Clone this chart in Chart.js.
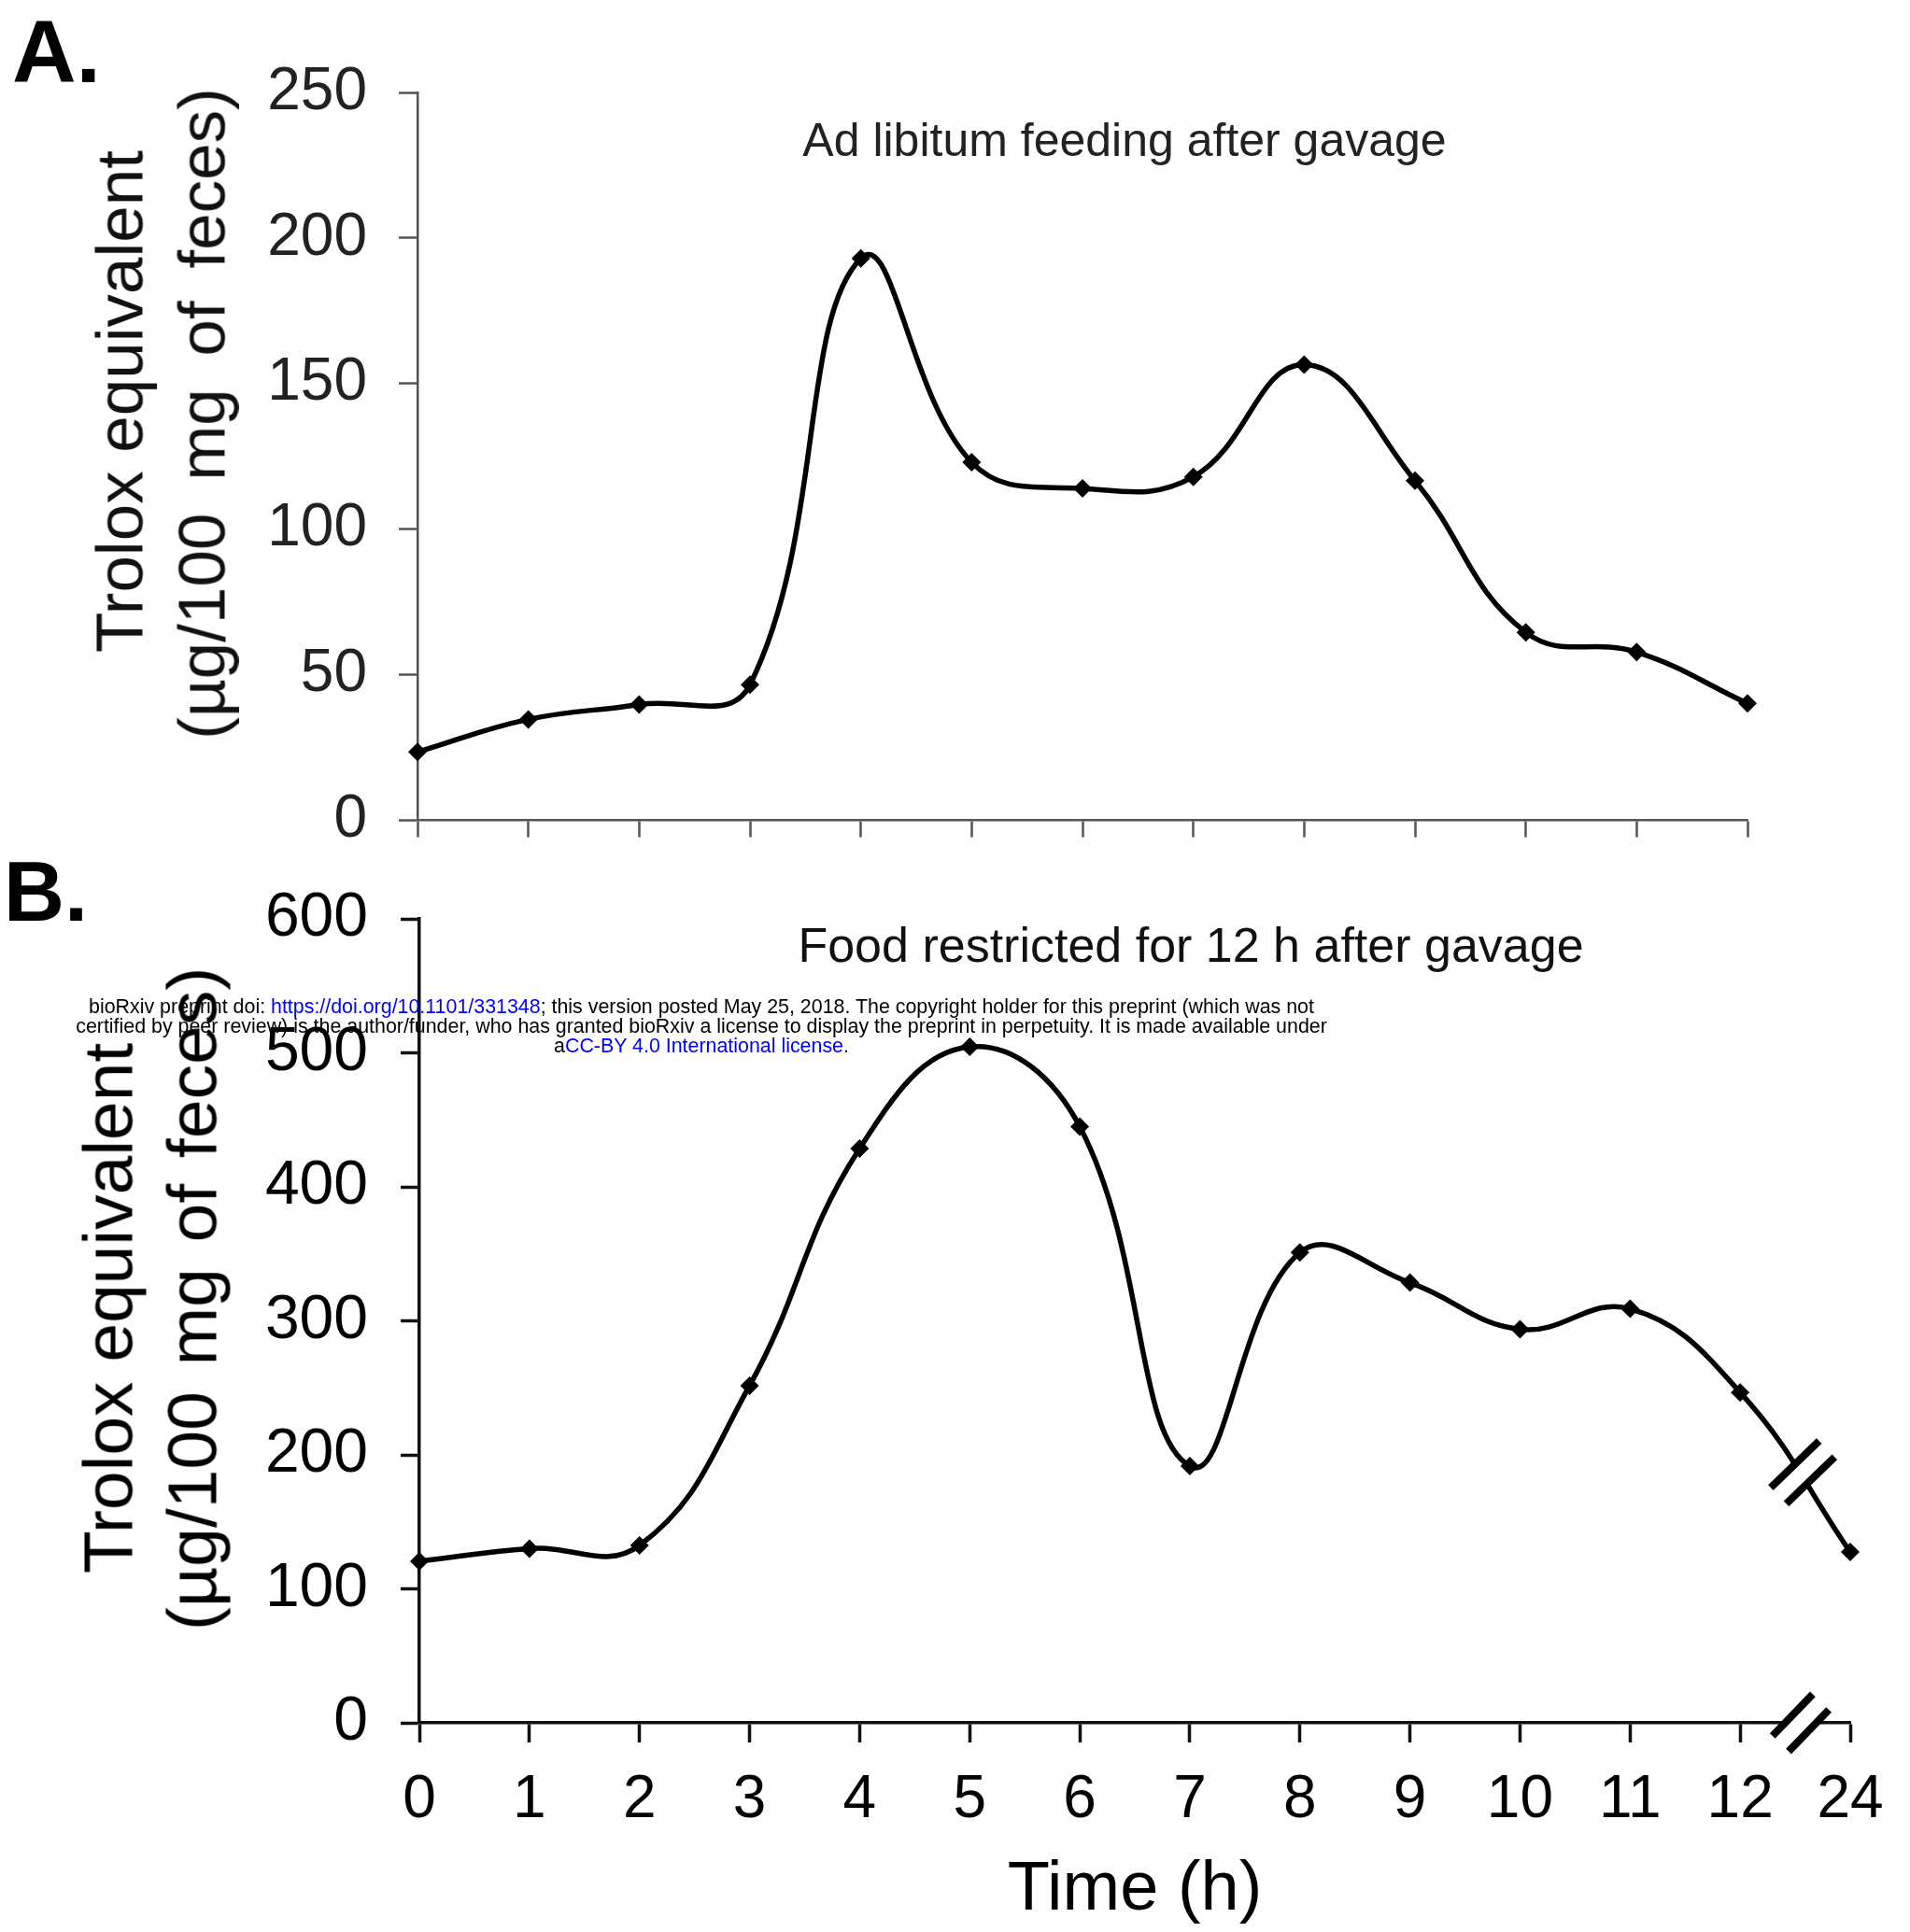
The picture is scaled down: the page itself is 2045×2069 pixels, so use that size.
<!DOCTYPE html>
<html>
<head>
<meta charset="utf-8">
<title>Trolox equivalent in feces after gavage</title>
<script src="https://cdn.jsdelivr.net/npm/chart.js@4.4.0/dist/chart.umd.min.js"></script>
<style>
  body { margin:0; background:#fff; width:2045px; height:2069px; position:relative; overflow:hidden;
         font-family:"Liberation Sans", Arial, sans-serif; }
  canvas { position:absolute; left:0; }
  #chartA { top:0; }
  #chartB { top:900px; }
  .txt { position:absolute; white-space:pre; line-height:1; transform:translate(-50%,-50%); }
  .ytitle { position:absolute; white-space:pre; line-height:1; transform:translate(-50%,-50%) rotate(-90deg); }
  .panel { position:absolute; font-weight:bold; line-height:1; }
  #stamp { position:absolute; left:751px; top:1068px; transform:translateX(-50%); text-align:center;
           font-size:21.4px; line-height:21px; white-space:pre; color:#000; z-index:5; }
  #stamp span { color:#0000ff; }
</style>
</head>
<body>
<canvas id="chartA" width="2045" height="951"></canvas>
<canvas id="chartB" width="2045" height="1169"></canvas>

<div class="panel" style="left:13px;top:8px;font-size:95px;">A.</div>
<div class="panel" style="left:4px;top:910px;font-size:90px;">B.</div>

<div class="txt" style="left:1204px;top:150px;font-size:50px;color:#222;">Ad libitum feeding after gavage</div>
<div class="txt" style="left:1275px;top:1012px;font-size:52px;color:#111;">Food restricted for 12 h after gavage</div>

<div class="ytitle" style="left:128px;top:430px;font-size:71px;color:#111;">Trolox equivalent</div>
<div class="ytitle" style="left:216px;top:443px;font-size:71px;color:#111;word-spacing:15px;">(µg/100 mg of feces)</div>
<div class="ytitle" style="left:116px;top:1401px;font-size:75px;color:#000;">Trolox equivalent</div>
<div class="ytitle" style="left:206px;top:1391px;font-size:75px;color:#000;word-spacing:7px;">(µg/100 mg of feces)</div>

<div id="stamp">bioRxiv preprint doi: <span>https://doi.org/10.1101/331348</span>; this version posted May 25, 2018. The copyright holder for this preprint (which was not
certified by peer review) is the author/funder, who has granted bioRxiv a license to display the preprint in perpetuity. It is made available under
a<span>CC-BY 4.0 International license</span>.</div>

<script>
// panel A: ad libitum feeding after gavage
const hoursA = ["0","1","2","3","4","5","6","7","8","9","10","11","12"];
const troloxA = [23.5, 34.7, 39.8, 46.6, 193, 123, 114, 118, 156.5, 116.7, 64.6, 57.8, 40.2];
const yTicksA = [0, 50, 100, 150, 200, 250];

// panel B: food restricted for 12 h after gavage (last point is 24 h, after the axis break)
const hoursB = ["0","1","2","3","4","5","6","7","8","9","10","11","12","24"];
const troloxB = [120.6, 130, 132.4, 251.6, 428.6, 504.5, 445, 191.6, 351, 328.5, 293.7, 309, 246.6, 127.5];
const yTicksB = [0, 100, 200, 300, 400, 500, 600];

const FONT = "'Liberation Sans', Arial, sans-serif";

// two slashes across a line, with the line blanked between them
function drawBreak(ctx, cx, cy, len, gap, angle, width) {
  const a = angle * Math.PI / 180;
  const dx = Math.cos(a), dy = -Math.sin(a);   // along the slash
  const nx = -dy, ny = dx;                      // across the slashes
  const h = len / 2, g = gap / 2;
  ctx.save();
  ctx.fillStyle = "#fff";
  ctx.beginPath();
  ctx.moveTo(cx - nx*g - dx*(h-4), cy - ny*g - dy*(h-4));
  ctx.lineTo(cx - nx*g + dx*(h-4), cy - ny*g + dy*(h-4));
  ctx.lineTo(cx + nx*g + dx*(h-4), cy + ny*g + dy*(h-4));
  ctx.lineTo(cx + nx*g - dx*(h-4), cy + ny*g - dy*(h-4));
  ctx.closePath();
  ctx.fill();
  ctx.strokeStyle = "#000";
  ctx.lineWidth = width;
  ctx.lineCap = "butt";
  [-g, g].forEach(o => {
    ctx.beginPath();
    ctx.moveTo(cx + nx*o - dx*h, cy + ny*o - dy*h);
    ctx.lineTo(cx + nx*o + dx*h, cy + ny*o + dy*h);
    ctx.stroke();
  });
  ctx.restore();
}

const breakMarks = {
  id: "breakMarks",
  afterDatasetsDraw(chart) {
    const ctx = chart.ctx;
    const meta = chart.getDatasetMeta(0);
    const n = meta.data.length;
    const p0 = meta.data[n-2], p1 = meta.data[n-1];
    // middle of the last curve segment (12 h -> 24 h)
    const t = 0.52, u = 1 - t;
    const bx = u*u*u*p0.x + 3*u*u*t*p0.cp2x + 3*u*t*t*p1.cp1x + t*t*t*p1.x;
    const by = u*u*u*p0.y + 3*u*u*t*p0.cp2y + 3*u*t*t*p1.cp1y + t*t*t*p1.y;
    drawBreak(ctx, bx + 3, by, 72, 24, 44, 8);
    // break on the time axis
    const xs = chart.scales.x;
    drawBreak(ctx, xs.getPixelForValue(n - 1.45), chart.chartArea.bottom, 62, 24, 46, 8);
  }
};

function makeChart(id, labels, values, yTicks, o) {
  return new Chart(document.getElementById(id), {
    type: "line",
    data: {
      labels: labels,
      datasets: [{
        data: values,
        borderColor: "#000",
        borderWidth: o.lineW,
        tension: 0.42,
        pointStyle: "rectRot",
        pointRadius: o.pointR,
        pointBackgroundColor: "#000",
        pointBorderWidth: 0,
        clip: false
      }]
    },
    options: {
      responsive: false,
      animation: false,
      events: [],
      layout: { padding: o.pad },
      plugins: { legend: { display: false }, tooltip: { enabled: false } },
      scales: {
        x: {
          type: "category",
          offset: false,
          afterFit: s => { s.height = o.xH; },
          border: { display: true, color: o.axisColor, width: o.axisW },
          grid: { drawOnChartArea: false, drawTicks: true, tickLength: o.xTick, tickWidth: o.axisW, tickColor: o.axisColor },
          ticks: {
            display: o.xLabels,
            autoSkip: false, maxRotation: 0,
            padding: 24,
            color: "#000",
            font: { family: FONT, size: 64 }
          },
          title: {
            display: o.xLabels,
            text: "Time (h)",
            color: "#000",
            padding: { top: 0, bottom: 0 },
            font: { family: FONT, size: 74, lineHeight: 1.2 }
          }
        },
        y: {
          min: yTicks[0],
          max: yTicks[yTicks.length - 1],
          afterFit: s => { s.width = o.yW; },
          afterBuildTicks: s => { s.ticks = yTicks.map(v => ({ value: v })); },
          border: { display: true, color: o.axisColor, width: o.axisW },
          grid: { drawOnChartArea: false, drawTicks: true, tickLength: 20, tickWidth: o.axisW, tickColor: o.axisColor },
          ticks: {
            padding: o.yPad,
            color: o.tickColor,
            font: { family: FONT, size: o.yFont }
          }
        }
      }
    },
    plugins: o.plugins
  });
}

makeChart("chartA", hoursA, troloxA, yTicksA, {
  pad: { left: 0, top: 99, right: 174, bottom: 0 },
  yW: 447, xH: 23, xTick: 18, xLabels: false,
  axisColor: "#555", axisW: 2.5, lineW: 5.5, pointR: 10,
  tickColor: "#222", yFont: 64, yPad: 34, plugins: []
});

makeChart("chartB", hoursB, troloxB, yTicksB, {
  pad: { left: 0, top: 84, right: 64, bottom: 0 },
  yW: 449, xH: 224, xTick: 21, xLabels: true,
  axisColor: "#111", axisW: 3.5, lineW: 5.5, pointR: 10,
  tickColor: "#000", yFont: 66, yPad: 35, plugins: [breakMarks]
});
</script>
</body>
</html>
